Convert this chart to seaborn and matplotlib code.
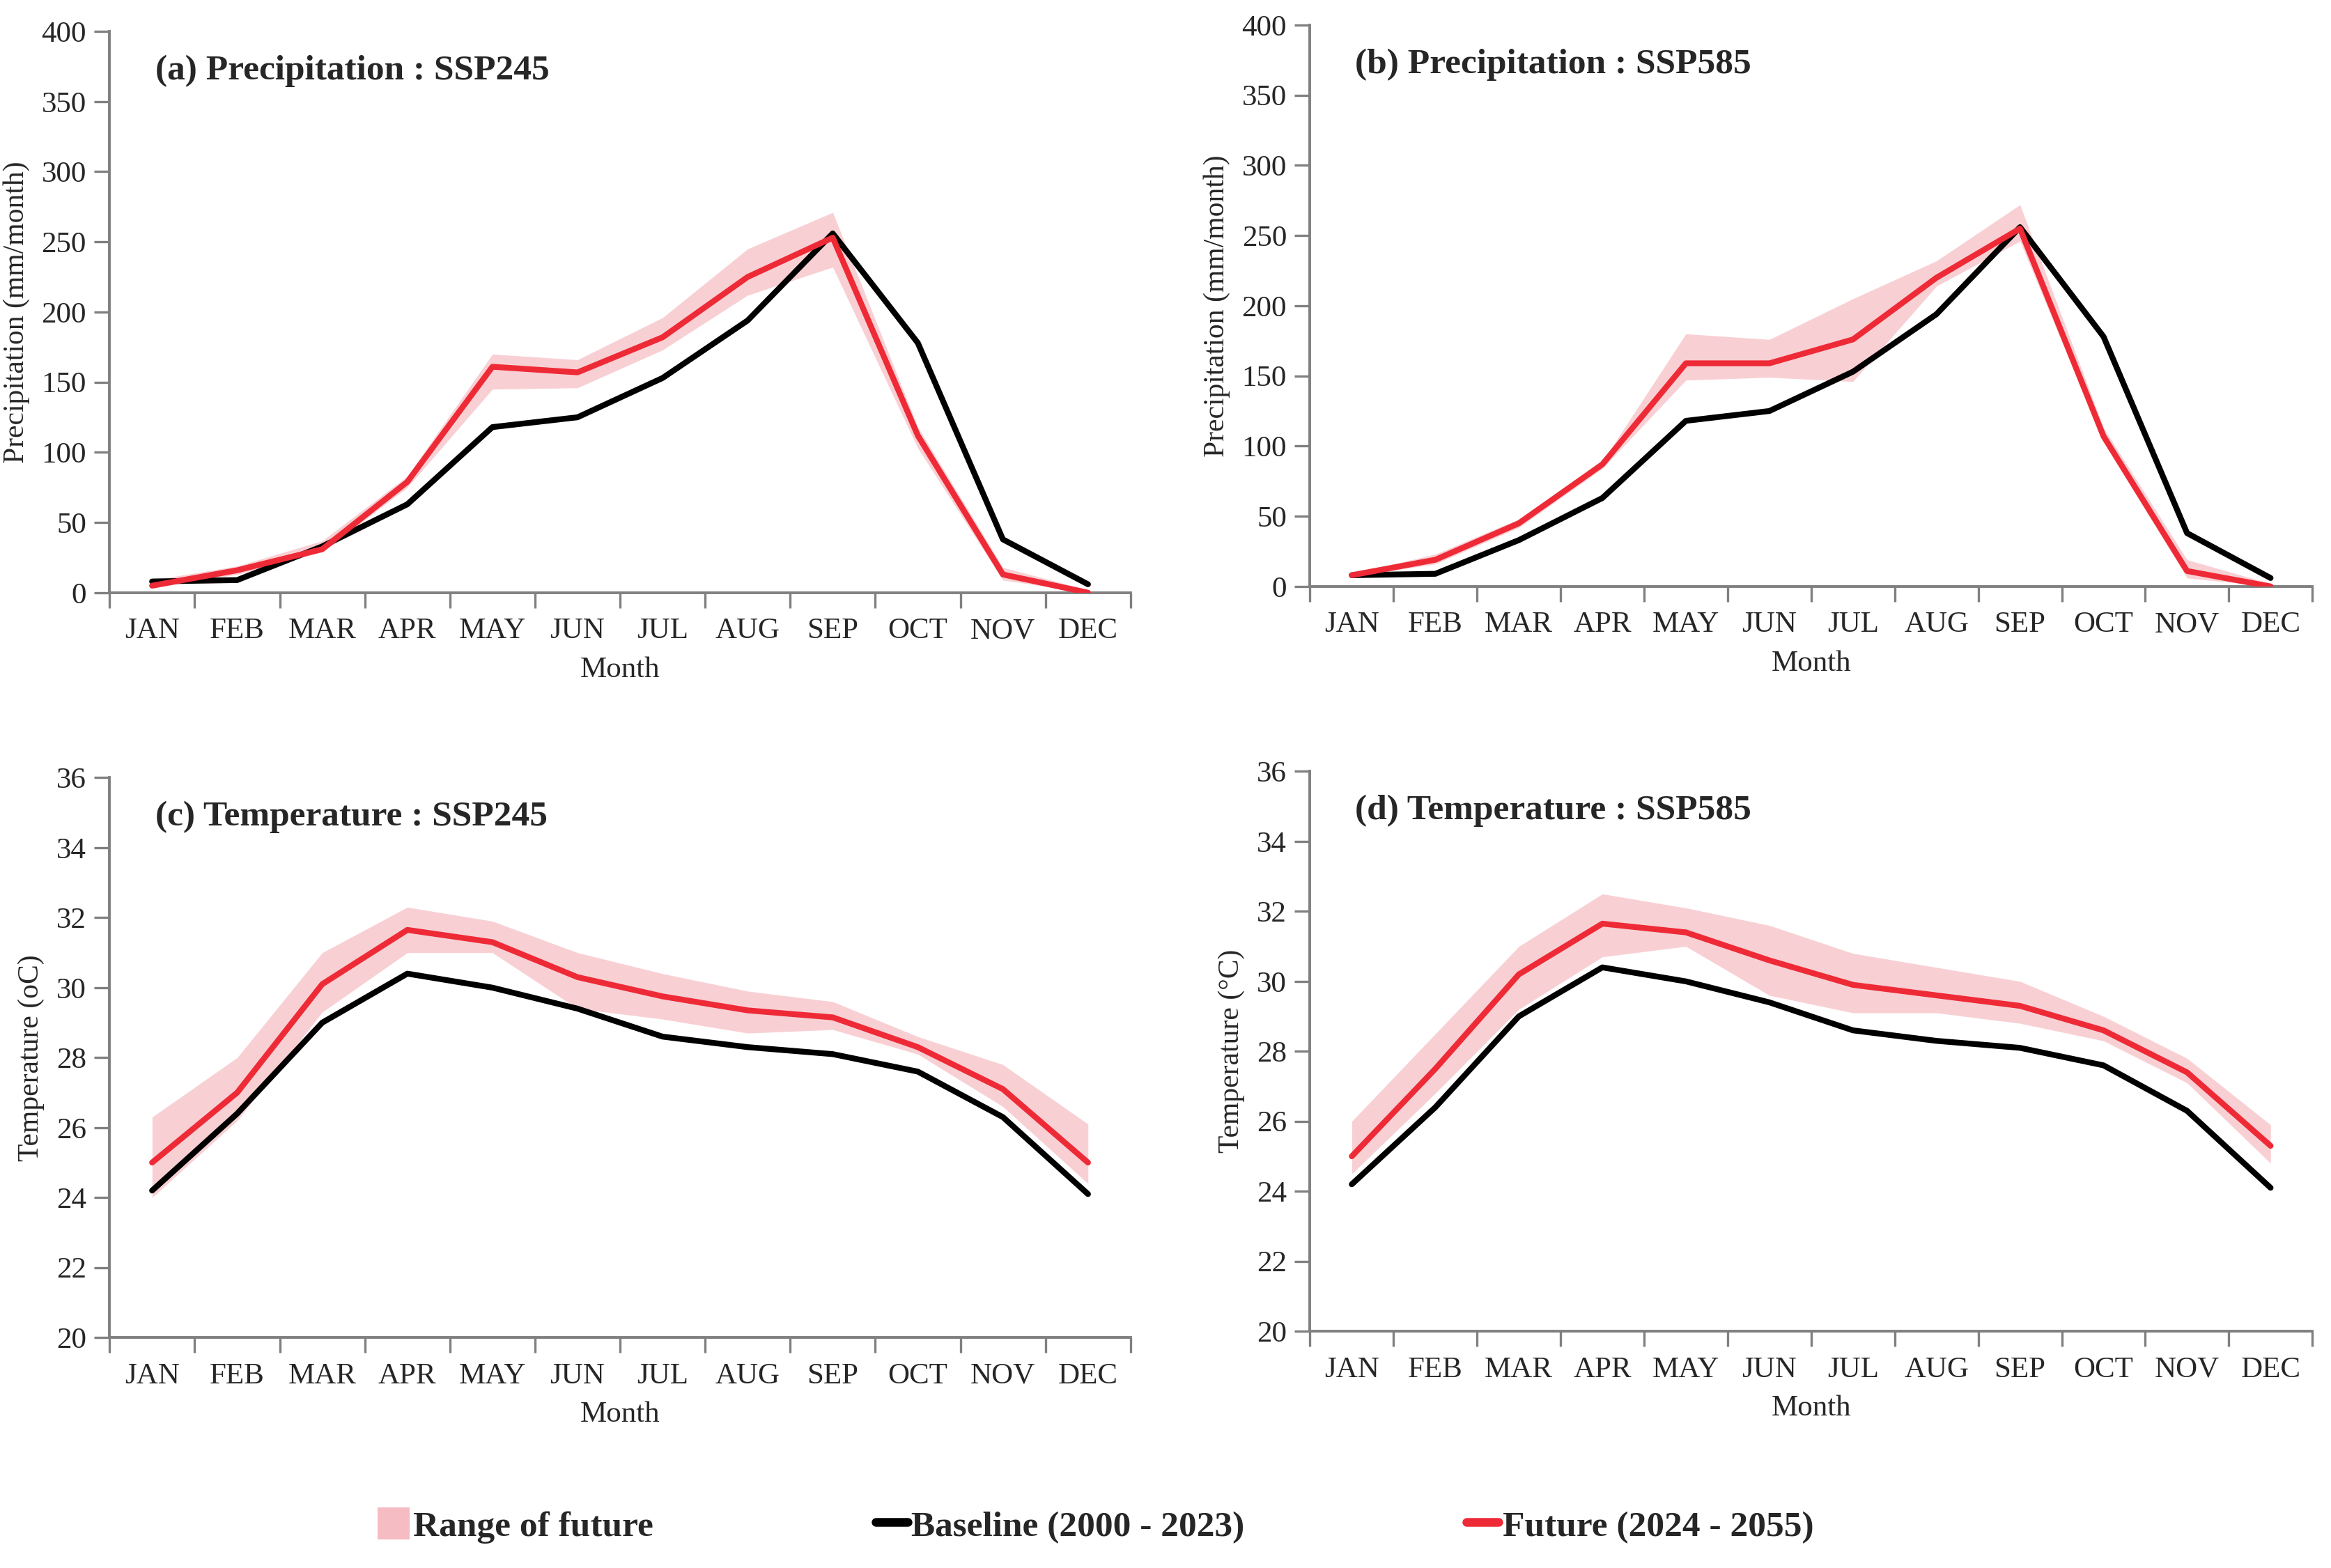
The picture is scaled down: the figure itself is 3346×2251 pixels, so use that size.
import numpy as np
import pandas as pd
import matplotlib
matplotlib.use("Agg")
import matplotlib.pyplot as plt
import seaborn as sns
from matplotlib.patches import Patch
from matplotlib.lines import Line2D
from matplotlib.ticker import FixedLocator, NullFormatter

# ---- data ----
months = ["JAN", "FEB", "MAR", "APR", "MAY", "JUN", "JUL", "AUG", "SEP", "OCT", "NOV", "DEC"]

pr_base = [8, 9, 33, 63, 118, 125, 153, 194, 256, 178, 38, 6]
pr245_fut = [5, 16, 31, 79, 161, 157, 182, 225, 253, 112, 13, 0]
pr245_lo = [4, 13, 29, 75, 145, 146, 173, 212, 232, 103, 9, 0]
pr245_hi = [9, 19, 37, 83, 170, 166, 196, 245, 271, 118, 18, 2]
pr585_fut = [8, 19, 45, 87, 159, 159, 176, 220, 255, 107, 11, 0]
pr585_lo = [7, 16, 42, 84, 147, 149, 146, 214, 246, 103, 6, 0]
pr585_hi = [9, 23, 48, 89, 180, 176, 205, 232, 272, 113, 19, 2]

tas_base = [24.2, 26.4, 29.0, 30.4, 30.0, 29.4, 28.6, 28.3, 28.1, 27.6, 26.3, 24.1]
tas245_fut = [25.0, 27.0, 30.1, 31.65, 31.3, 30.3, 29.75, 29.35, 29.15, 28.3, 27.1, 25.0]
tas245_lo = [24.0, 26.2, 29.3, 31.0, 31.0, 29.4, 29.1, 28.7, 28.8, 28.1, 26.6, 24.4]
tas245_hi = [26.3, 28.0, 31.0, 32.3, 31.9, 31.0, 30.4, 29.9, 29.6, 28.6, 27.8, 26.1]
tas585_fut = [25.0, 27.5, 30.2, 31.65, 31.4, 30.6, 29.9, 29.6, 29.3, 28.6, 27.4, 25.3]
tas585_lo = [24.5, 26.8, 29.2, 30.7, 31.0, 29.6, 29.1, 29.1, 28.8, 28.3, 27.1, 24.8]
tas585_hi = [26.0, 28.5, 31.0, 32.5, 32.1, 31.6, 30.8, 30.4, 30.0, 29.0, 27.8, 25.9]

panel_titles = ["(a) Precipitation : SSP245", "(b) Precipitation : SSP585",
                "(c) Temperature : SSP245", "(d) Temperature : SSP585"]
ylabels = ["Precipitation (mm/month)", "Precipitation (mm/month)",
           "Temperature (oC)", "Temperature (\u00b0C)"]

RED = "#EE2A36"
PINK = "#F6BCC3"
GREY = "#808080"

sns.set_style("white")
plt.rcParams["font.family"] = ["Liberation Serif", "DejaVu Serif"]

fig = plt.figure(figsize=(16.73, 11.255), dpi=200)

positions = [
    [0.047, 0.622, 0.438, 0.358],
    [0.562, 0.626, 0.430, 0.358],
    [0.047, 0.147, 0.438, 0.357],
    [0.562, 0.151, 0.430, 0.357],
]

panels = [
    (pr_base, pr245_fut, pr245_lo, pr245_hi, (0, 400), np.arange(0, 401, 50)),
    (pr_base, pr585_fut, pr585_lo, pr585_hi, (0, 400), np.arange(0, 401, 50)),
    (tas_base, tas245_fut, tas245_lo, tas245_hi, (20, 36), np.arange(20, 37, 2)),
    (tas_base, tas585_fut, tas585_lo, tas585_hi, (20, 36), np.arange(20, 37, 2)),
]

x = np.arange(len(months))

for i, (base, fut, lo, hi, ylim, yticks) in enumerate(panels):
    ax = fig.add_axes(positions[i])
    df = pd.DataFrame({"m": x, "base": base, "fut": fut, "lo": lo, "hi": hi})

    ax.fill_between(df["m"], df["lo"], df["hi"], color=PINK, alpha=0.7,
                    linewidth=0, zorder=1)
    sns.lineplot(data=df, x="m", y="fut", ax=ax, color=RED, linewidth=3.0, zorder=3)
    sns.lineplot(data=df, x="m", y="base", ax=ax, color="black", linewidth=3.0, zorder=2)

    ax.set_xlim(-0.5, len(months) - 0.5)
    ax.set_ylim(*ylim)
    ax.set_yticks(yticks)
    ax.set_xticks(x)
    ax.set_xticklabels(months)
    ax.xaxis.set_minor_locator(FixedLocator(np.arange(-0.5, len(months), 1.0)))
    ax.xaxis.set_minor_formatter(NullFormatter())
    ax.tick_params(axis="x", which="major", length=0, pad=13, labelsize=15.5)
    ax.tick_params(axis="x", which="minor", length=8, width=1.2, color=GREY,
                   direction="out", bottom=True)
    ax.tick_params(axis="y", length=8, width=1.2, color=GREY, direction="out",
                   left=True, labelsize=15.5, pad=4)

    for side in ["top", "right"]:
        ax.spines[side].set_visible(False)
    for side in ["left", "bottom"]:
        ax.spines[side].set_color(GREY)
        ax.spines[side].set_linewidth(1.4)

    ax.set_xlabel("Month", fontsize=15.5, labelpad=6)
    ax.set_ylabel(ylabels[i], fontsize=15, labelpad=6)
    ax.text(0.045, 0.93, panel_titles[i], transform=ax.transAxes,
            fontsize=18.5, fontweight="bold", va="center", ha="left")

handles = [
    Patch(facecolor=PINK, edgecolor="none"),
    Line2D([0], [0], color="black", linewidth=4.5),
    Line2D([0], [0], color=RED, linewidth=4.5),
]
labels = ["Range of future", "Baseline (2000 - 2023)", "Future (2024 - 2055)"]
fig.legend(handles, labels, loc="center", bbox_to_anchor=(0.47, 0.027), ncol=3,
           frameon=False, handlelength=0.9, handleheight=1.0, handletextpad=0.1,
           columnspacing=6.2, prop={"weight": "bold", "size": 18.5})

fig.savefig("out.png", dpi=200)
